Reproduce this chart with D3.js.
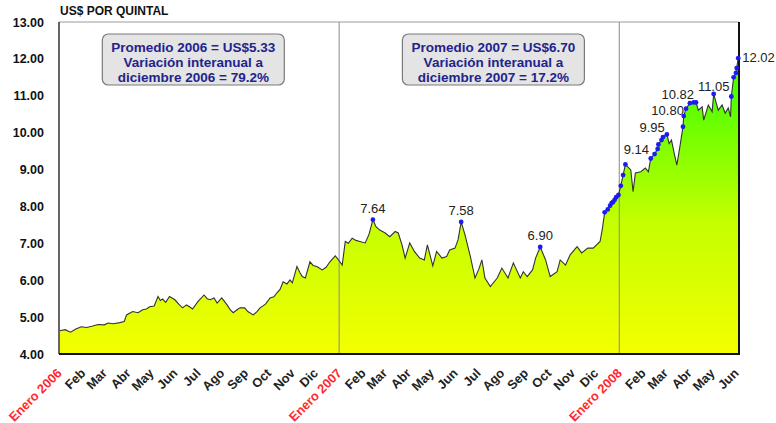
<!DOCTYPE html>
<html>
<head>
<meta charset="utf-8">
<script src="https://cdn.jsdelivr.net/npm/d3@7"></script>
<style>
  body { margin: 0; background: #fff; }
  svg { font-family: "Liberation Sans", Arial, sans-serif; }
</style>
</head>
<body>
<svg width="776" height="423"></svg>
<script>
// Precio por quintal, serie aproximada
var dates = [
  "2006-01-02","2006-01-09","2006-01-16","2006-01-23","2006-01-30","2006-02-06","2006-02-14","2006-02-21",
  "2006-03-01","2006-03-06","2006-03-13","2006-03-21","2006-03-27","2006-03-30","2006-04-07","2006-04-14",
  "2006-04-20","2006-04-25","2006-04-29","2006-05-05","2006-05-10","2006-05-13","2006-05-16","2006-05-20",
  "2006-05-25","2006-06-01","2006-06-06","2006-06-11","2006-06-16","2006-06-20","2006-06-24","2006-07-01",
  "2006-07-09","2006-07-13","2006-07-17","2006-07-22","2006-07-26","2006-08-01","2006-08-08","2006-08-12",
  "2006-08-16","2006-08-21","2006-08-25","2006-08-31","2006-09-04","2006-09-11","2006-09-16","2006-09-20",
  "2006-09-27","2006-10-03","2006-10-08","2006-10-12","2006-10-16","2006-10-20","2006-10-25","2006-10-29",
  "2006-11-01","2006-11-07","2006-11-11","2006-11-14","2006-11-18","2006-11-24","2006-11-28","2006-12-03",
  "2006-12-10","2006-12-15","2006-12-20","2006-12-27","2007-01-02","2007-01-05","2007-01-09","2007-01-13",
  "2007-01-18","2007-01-23","2007-01-28","2007-02-04","2007-02-09","2007-02-14","2007-02-18","2007-02-23",
  "2007-03-02","2007-03-08","2007-03-15","2007-03-19","2007-03-24","2007-03-28","2007-04-03","2007-04-09",
  "2007-04-16","2007-04-22","2007-04-26","2007-05-03","2007-05-08","2007-05-15","2007-05-21","2007-05-25",
  "2007-06-01","2007-06-05","2007-06-09","2007-06-14","2007-06-21","2007-06-27","2007-07-02","2007-07-06",
  "2007-07-10","2007-07-17","2007-07-26","2007-08-01","2007-08-09","2007-08-16","2007-08-25","2007-08-29",
  "2007-09-03","2007-09-10","2007-09-14","2007-09-20","2007-09-27","2007-10-03","2007-10-12","2007-10-16",
  "2007-10-23","2007-10-29","2007-11-07","2007-11-13","2007-11-21","2007-11-28","2007-12-07","2007-12-10",
  "2007-12-13","2007-12-17","2007-12-20","2007-12-22","2007-12-24","2007-12-26","2007-12-28","2007-12-31",
  "2008-01-03","2008-01-06","2008-01-09","2008-01-16","2008-01-19","2008-01-22","2008-01-29","2008-02-04",
  "2008-02-08","2008-02-10","2008-02-11","2008-02-16","2008-02-20","2008-02-21","2008-02-25","2008-02-27",
  "2008-03-03","2008-03-06","2008-03-09","2008-03-13","2008-03-16","2008-03-20","2008-03-24","2008-03-25",
  "2008-03-28","2008-04-02","2008-04-07","2008-04-10","2008-04-13","2008-04-18","2008-04-20","2008-04-26",
  "2008-05-01","2008-05-03","2008-05-09","2008-05-14","2008-05-18","2008-05-22","2008-05-25","2008-05-26",
  "2008-05-29","2008-06-01","2008-06-02","2008-06-04"
];
var prices = [
  4.63,4.66,4.59,4.68,4.74,4.72,4.76,4.80,
  4.79,4.84,4.82,4.85,4.88,5.06,5.15,5.12,
  5.20,5.22,5.28,5.30,5.56,5.45,5.49,5.40,
  5.56,5.47,5.35,5.25,5.33,5.28,5.22,5.42,
  5.60,5.50,5.47,5.52,5.38,5.52,5.33,5.20,
  5.12,5.20,5.25,5.25,5.15,5.06,5.15,5.25,
  5.35,5.52,5.55,5.66,5.75,5.96,5.90,6.01,
  5.93,6.37,6.20,6.10,6.06,6.50,6.40,6.37,
  6.28,6.35,6.50,6.66,6.50,6.41,7.05,7.00,
  7.14,7.08,7.05,7.01,7.25,7.64,7.45,7.36,
  7.28,7.18,7.32,7.28,6.95,6.60,7.01,6.78,
  6.60,6.55,6.96,6.39,6.78,6.60,6.64,6.82,
  6.87,7.10,7.58,7.23,6.64,6.06,6.30,6.55,
  6.06,5.83,6.06,6.33,6.06,6.47,6.06,6.23,
  6.10,6.28,6.60,6.90,6.55,6.10,6.23,6.55,
  6.41,6.69,6.91,6.74,6.87,6.87,7.05,7.40,
  7.84,7.92,8.02,8.09,8.12,8.18,8.25,8.31,
  8.56,8.85,9.14,8.99,8.40,8.91,8.94,9.04,
  8.94,9.18,9.30,9.42,9.56,9.68,9.80,9.88,
  9.95,9.70,9.80,9.40,9.12,9.62,10.16,10.45,
  10.65,10.80,10.82,10.82,10.61,10.70,10.34,10.75,
  10.57,11.05,10.61,10.75,10.53,10.67,10.43,10.98,
  11.50,11.62,11.75,12.02
];

// puntos azules
var dotDates = [
  "2007-02-14","2007-06-09","2007-09-20",
  "2007-12-13","2007-12-17","2007-12-20","2007-12-22","2007-12-24","2007-12-26","2007-12-28","2007-12-31",
  "2008-01-03","2008-01-06","2008-01-09",
  "2008-02-11","2008-02-16","2008-02-20","2008-02-21","2008-02-25","2008-02-27","2008-03-03",
  "2008-03-24","2008-03-25","2008-03-28","2008-04-02","2008-04-07","2008-04-10",
  "2008-05-03","2008-05-26","2008-05-29","2008-06-01","2008-06-02","2008-06-04"
];

// valores rotulados
var peakDates = ["2007-02-14","2007-06-09","2007-09-20","2008-01-09","2008-03-03","2008-04-02","2008-04-07","2008-05-03","2008-06-04"];
var peakTexts = ["7.64","7.58","6.90","9.14","9.95","10.80","10.82","11.05","12.02"];

var yTicks = [4,5,6,7,8,9,10,11,12,13];
var monthNames = ["Enero","Feb","Mar","Abr","May","Jun","Jul","Ago","Sep","Oct","Nov","Dic"];

var notes = [
  { at: "2006-06-25", lines: ["Promedio 2006 = US$5.33", "Variación interanual a", "diciembre 2006 = 79.2%"] },
  { at: "2007-07-21", lines: ["Promedio 2007 = US$6.70", "Variación interanual a", "diciembre 2007 = 17.2%"] }
];

var parse = d3.timeParse("%Y-%m-%d");
var data = dates.map(function (d, i) { return { date: parse(d), value: prices[i] }; });

var svg = d3.select("svg");
var plotL = 59, plotR = 739, plotT = 22, plotB = 354;

var x = d3.scaleTime()
  .domain([parse("2006-01-01"), parse("2008-06-05")])
  .range([plotL, plotR]);
var y = d3.scaleLinear().domain([4, 13]).range([plotB, plotT]);

// gradiente amarillo -> verde
var grad = svg.append("defs").append("linearGradient")
  .attr("id", "fillGrad")
  .attr("gradientUnits", "userSpaceOnUse")
  .attr("x1", 0).attr("y1", plotB)
  .attr("x2", 0).attr("y2", y(12));
grad.append("stop").attr("offset", "0%").attr("stop-color", "#f4ff00");
grad.append("stop").attr("offset", "45%").attr("stop-color", "#c4ff00");
grad.append("stop").attr("offset", "100%").attr("stop-color", "#33ff00");

var area = d3.area()
  .x(function (d) { return x(d.date); })
  .y0(y(4))
  .y1(function (d) { return y(d.value); });
var line = d3.line()
  .x(function (d) { return x(d.date); })
  .y(function (d) { return y(d.value); });

svg.append("path").datum(data).attr("d", area).attr("fill", "url(#fillGrad)");

// separadores de año
svg.append("g").selectAll("line")
  .data([parse("2007-01-01"), parse("2008-01-01")])
  .enter().append("line")
  .attr("x1", function (d) { return x(d); })
  .attr("x2", function (d) { return x(d); })
  .attr("y1", plotT).attr("y2", plotB)
  .attr("stroke", "#8a8a8a").attr("stroke-width", 1);

svg.append("path").datum(data).attr("d", line)
  .attr("fill", "none").attr("stroke", "#333").attr("stroke-width", 1.1);

// marco
svg.append("line").attr("x1", plotL).attr("x2", plotR).attr("y1", plotT).attr("y2", plotT)
  .attr("stroke", "#9a9a9a").attr("stroke-width", 1);
svg.append("line").attr("x1", plotL).attr("x2", plotL).attr("y1", plotT).attr("y2", plotB)
  .attr("stroke", "#333").attr("stroke-width", 1.5);
svg.append("line").attr("x1", plotR).attr("x2", plotR).attr("y1", plotT).attr("y2", plotB + 1)
  .attr("stroke", "#111").attr("stroke-width", 2);
svg.append("line").attr("x1", plotL).attr("x2", plotR + 1).attr("y1", plotB).attr("y2", plotB)
  .attr("stroke", "#111").attr("stroke-width", 1.8);

// puntos
var dotSet = new Set(dotDates);
svg.append("g").selectAll("circle")
  .data(data.filter(function (d, i) { return dotSet.has(dates[i]); }))
  .enter().append("circle")
  .attr("cx", function (d) { return x(d.date); })
  .attr("cy", function (d) { return y(d.value); })
  .attr("r", 2.4)
  .attr("fill", "#1c1cf0");

// rotulos de picos (posicion relativa al punto)
var placement = [
  [0, -7, "middle"], [0, -7, "middle"], [0, -7, "middle"], [11, -10, "middle"],
  [-2, -3, "end"], [-6, 12, "end"], [-16, -3, "middle"], [0, -3, "middle"], [4, 4, "start"]
];
svg.append("g").selectAll("text")
  .data(peakDates)
  .enter().append("text")
  .attr("x", function (d, i) { return x(parse(d)) + placement[i][0]; })
  .attr("y", function (d, i) { return y(prices[dates.indexOf(d)]) + placement[i][1]; })
  .attr("text-anchor", function (d, i) { return placement[i][2]; })
  .attr("font-size", 13)
  .attr("fill", "#222")
  .text(function (d, i) { return peakTexts[i]; });

// eje Y
var yAxis = svg.append("g")
  .attr("transform", "translate(" + plotL + ",0)")
  .call(d3.axisLeft(y).tickValues(yTicks).tickFormat(d3.format(".2f")).tickSize(0).tickPadding(15));
yAxis.select(".domain").remove();
yAxis.selectAll("text")
  .attr("font-family", "Liberation Sans, Arial, sans-serif")
  .attr("font-size", 12.5)
  .attr("font-weight", "bold")
  .attr("fill", "#111");

svg.append("text")
  .attr("x", 60).attr("y", 15)
  .attr("font-size", 12).attr("font-weight", "bold").attr("fill", "#111")
  .text("US$ POR QUINTAL");

// eje X con meses
var xAxis = svg.append("g")
  .attr("transform", "translate(0," + plotB + ")")
  .call(d3.axisBottom(x)
    .ticks(d3.timeMonth.every(1))
    .tickSize(0)
    .tickFormat(function (d) {
      return d.getMonth() === 0 ? monthNames[0] + " " + d.getFullYear() : monthNames[d.getMonth()];
    }));
xAxis.select(".domain").remove();
xAxis.selectAll("text")
  .attr("font-family", "Liberation Sans, Arial, sans-serif")
  .attr("font-size", 12.8)
  .attr("font-weight", "bold")
  .attr("text-anchor", "end")
  .attr("dy", null)
  .attr("y", null)
  .attr("transform", "translate(3,20) rotate(-45)")
  .attr("fill", function (d) { return d.getMonth() === 0 ? "#ff2a2a" : "#222"; });

// cuadros de notas
var noteG = svg.append("g").selectAll("g")
  .data(notes)
  .enter().append("g")
  .attr("transform", function (d) { return "translate(" + x(parse(d.at)) + ",0)"; });
noteG.append("rect")
  .attr("x", -91).attr("y", 34).attr("width", 182).attr("height", 51)
  .attr("rx", 6)
  .attr("fill", "#e4e4e4")
  .attr("stroke", "#7a7a7a").attr("stroke-width", 1.2);
noteG.selectAll("text")
  .data(function (d) { return d.lines; })
  .enter().append("text")
  .attr("x", 0)
  .attr("y", function (d, i) { return 52 + i * 15; })
  .attr("text-anchor", "middle")
  .attr("font-size", 13.5)
  .attr("font-weight", "bold")
  .attr("fill", "#23238c")
  .text(function (d) { return d; });
</script>
</body>
</html>
